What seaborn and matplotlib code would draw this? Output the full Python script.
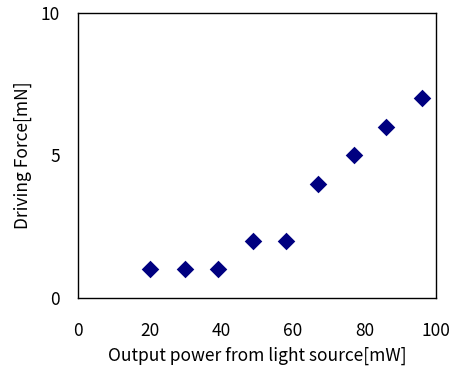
import matplotlib
matplotlib.use("Agg")
import matplotlib.pyplot as plt
import seaborn as sns
import pandas as pd

# Data
power_mw = [20, 30, 39, 49, 58, 67, 77, 86, 96]
force_mn = [1, 1, 1, 2, 2, 4, 5, 6, 7]
x_ticks = [0, 20, 40, 60, 80, 100]
y_ticks = [0, 5, 10]

df = pd.DataFrame({"power": power_mw, "force": force_mn})

sns.set_style("white")
plt.rcParams["font.family"] = ["Noto Sans CJK JP", "DejaVu Sans"]
plt.rcParams["text.color"] = "black"
plt.rcParams["axes.labelcolor"] = "black"
plt.rcParams["xtick.color"] = "black"
plt.rcParams["ytick.color"] = "black"

fig = plt.figure(figsize=(4.54, 3.70), dpi=100)
ax = fig.add_axes([0.1718, 0.1946, 0.7885, 0.7703])

sns.scatterplot(
    data=df,
    x="power",
    y="force",
    marker="D",
    s=80,
    color="#000080",
    edgecolor="#000080",
    linewidth=0,
    ax=ax
)

ax.set_xlim(0, 100)
ax.set_ylim(0, 10)
ax.set_xticks(x_ticks)
ax.set_yticks(y_ticks)
ax.tick_params(direction="in", length=5, width=0.8, color="black",
               labelcolor="black", labelsize=12.5)
ax.tick_params(axis="x", pad=17)
ax.tick_params(axis="y", pad=13)
for s in ax.spines.values():
    s.set_color("black")
    s.set_linewidth(1.0)

ax.set_xlabel("Output power from light source[mW]", fontsize=12.5, labelpad=5)
ax.set_ylabel("Driving Force[mN]", fontsize=12.5, labelpad=6)

fig.savefig("out.png", dpi=100)
